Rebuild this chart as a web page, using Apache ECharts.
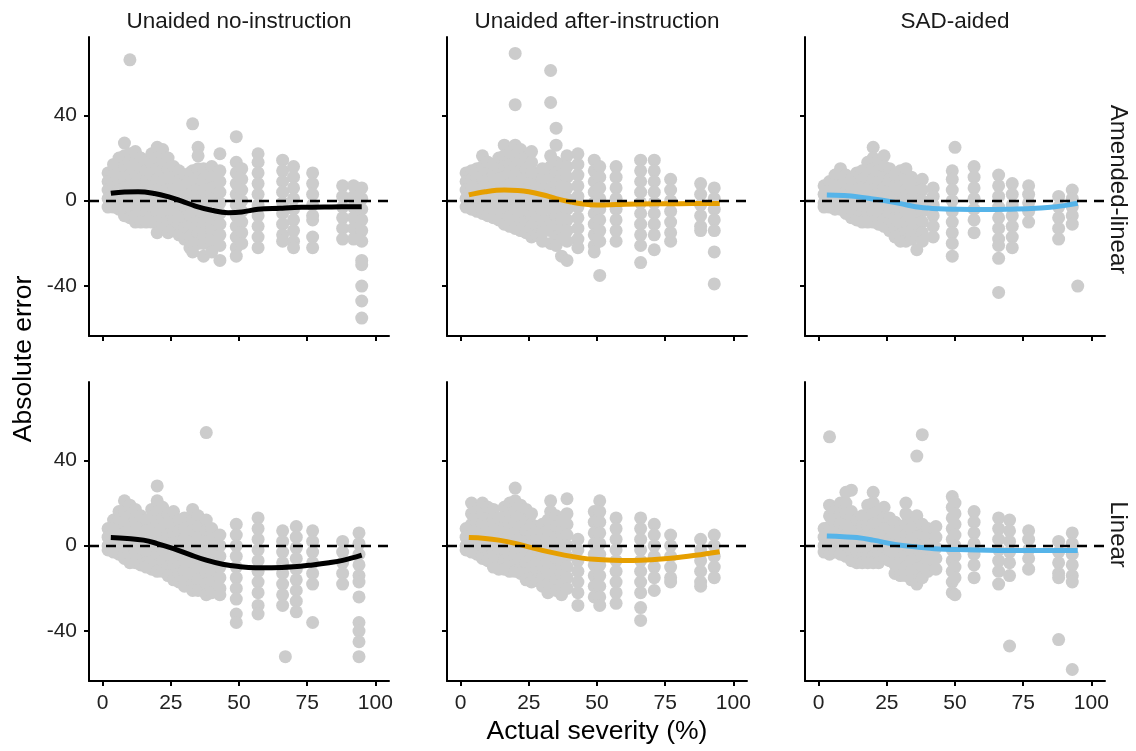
<!DOCTYPE html>
<html>
<head>
<meta charset="utf-8">
<script src="https://cdn.jsdelivr.net/npm/echarts@6/dist/echarts.min.js"></script>
<style>
html,body{margin:0;padding:0;background:#fff;}
#chart{width:1136px;height:751px;}
</style>
</head>
<body>
<div id="chart"></div>
<script>
// ---- labels ----
const colTitles = ['Unaided no-instruction', 'Unaided after-instruction', 'SAD-aided'];
const rowLabels = ['Amended-linear', 'Linear'];
const xTicks = [0, 25, 50, 75, 100];
const yTicks = [-40, 0, 40];
const xTitle = 'Actual severity (%)';
const yTitle = 'Absolute error';
const fitColors = ['#000000', '#E69F00', '#56B4E9'];

// ---- observations: [actual severity, list of absolute errors] ----
const ptsALno = [
 [2,[13,9,5,1,-3]],[4,[17,12,8,4,0,-3]],[6,[20,15,10,5,1,-4]],[8,[27,21,16,11,6,1,-4,-7]],
 [10,[66,22,17,12,7,2,-3,-8]],[12,[23,18,13,8,3,-2,-7,-10]],[14,[20,15,10,5,0,-5,-10]],
 [16,[19,14,9,4,-1,-6,-10]],[18,[22,17,12,7,2,-3,-8,-10]],[20,[25,20,15,10,5,0,-5,-10,-15]],
 [22,[24,19,14,9,4,-1,-6,-11]],[24,[20,15,10,5,0,-5,-10,-15]],[26,[16,11,6,1,-4,-9,-14]],
 [28,[14,9,4,-1,-6,-11,-16]],[30,[12,7,2,-3,-8,-13,-18]],[32,[13,8,3,-2,-7,-12,-17,-22]],
 [33,[36,14,9,4,-1,-6,-11,-16,-21,-24]],[35,[25,21,15,10,5,0,-5,-10,-15,-20]],
 [37,[15,10,5,0,-5,-10,-15,-20,-26]],[40,[16,11,6,1,-4,-9,-14,-19,-24]],
 [43,[22,14,9,4,-1,-6,-11,-16,-21,-28]],[49,[30,18,13,8,3,-2,-7,-12,-17,-22,-26]],
 [51,[15,10,5,0,-5,-10,-15,-20]],[57,[22,18,13,8,3,-2,-7,-12,-17,-22]],
 [66,[19,14,9,4,-1,-6,-11,-16,-19]],[70,[16,11,6,1,-4,-9,-14,-19,-22]],
 [77,[13,8,3,-2,-7,-9,-17,-22]],[88,[7,2,-3,-8,-13,-18]],[92,[7,2,-3,-8,-13,-18]],
 [95,[6,1,-4,-9,-14,-19,-28,-30,-40,-47,-55]]
];
const ptsALafter = [
 [2,[13,9,5,1,-3]],[4,[14,10,6,2,-2,-4]],[6,[15,11,6,1,-3,-5]],[8,[21,16,11,6,1,-4,-6]],
 [10,[18,13,8,3,-2,-7]],[12,[17,12,7,2,-3,-8]],[14,[20,15,10,5,0,-5,-9]],
 [16,[26,21,16,11,6,1,-4,-9,-11]],[18,[22,17,12,7,2,-3,-8,-12]],
 [20,[69,45,26,21,16,11,6,1,-4,-9,-13]],[22,[24,19,14,9,4,-1,-6,-11,-14]],
 [24,[20,15,10,5,0,-5,-10,-15]],[26,[23,18,13,8,3,-2,-7,-12,-17]],[28,[13,8,3,-2,-7,-12,-16]],
 [30,[15,10,5,0,-5,-10,-15,-19]],[33,[61,46,21,16,11,6,1,-4,-9,-14,-20]],
 [35,[34,26,18,13,8,3,-2,-7,-12,-17,-21]],[37,[17,12,7,2,-3,-8,-13,-18,-26]],
 [39,[21,16,11,6,1,-4,-9,-14,-19,-28]],[43,[22,17,12,7,2,-3,-8,-13,-18,-22]],
 [49,[19,14,9,4,-1,-6,-11,-16,-21,-24]],[51,[16,11,6,1,-4,-9,-14,-19,-35]],
 [57,[16,11,6,1,-4,-9,-14,-19]],[66,[19,14,9,4,-1,-6,-11,-16,-21,-29]],
 [71,[19,14,9,4,-1,-6,-11,-16,-23]],[77,[10,5,0,-5,-10,-15,-19]],
 [88,[8,3,-2,-7,-12,-14]],[93,[6,1,-4,-9,-14,-24,-39]]
];
const ptsALsad = [
 [2,[7,3,-1,-3]],[4,[9,5,1,-3]],[6,[12,8,4,0,-4]],[8,[15,11,7,3,-1,-4]],[10,[12,8,4,0,-4,-6]],
 [12,[10,6,2,-2,-6,-8]],[14,[13,9,5,1,-3,-7,-9]],[16,[14,10,6,2,-2,-6,-10]],
 [18,[18,14,10,6,2,-2,-6,-10]],[20,[25,20,15,10,5,0,-5,-10]],[22,[19,14,9,4,-1,-6,-11]],
 [24,[21,16,11,6,1,-4,-9,-12]],[26,[15,10,5,0,-5,-10,-14]],[28,[12,7,2,-3,-8,-13,-17]],
 [30,[14,9,4,-1,-6,-11,-16,-19]],[32,[15,10,5,0,-5,-10,-15,-19]],[34,[11,6,1,-4,-9,-14,-18]],
 [36,[9,4,-1,-6,-11,-16,-23]],[38,[10,5,0,-5,-10,-15,-19]],[42,[6,2,-2,-7,-12,-17]],
 [49,[14,10,5,0,-5,-10,-15,-20,-26]],[50,[25]],[57,[16,11,6,1,-4,-9,-15]],
 [66,[12,7,2,-3,-8,-13,-18,-21,-27,-43]],[71,[8,3,-2,-7,-12,-17,-22]],[77,[7,3,-1,-5,-10]],
 [88,[2,-3,-8,-13,-18]],[93,[5,1,-3,-7,-11]],[95,[-40]]
];
const ptsLno = [
 [2,[8,4,0,-2]],[4,[12,8,4,0,-3]],[6,[16,12,8,4,0,-4]],[8,[21,16,11,6,1,-4,-6]],
 [10,[19,14,9,4,-1,-6,-8]],[12,[17,12,7,2,-3,-8]],[14,[14,9,4,-1,-6,-9]],[16,[12,7,2,-3,-8,-10]],
 [18,[17,12,7,2,-3,-8,-11]],[20,[28,21,16,11,6,1,-4,-9,-12]],[22,[18,13,8,3,-2,-7,-12]],
 [24,[15,10,5,0,-5,-10,-14]],[26,[16,11,6,1,-4,-9,-14,-16]],[28,[12,7,2,-3,-8,-13,-17]],
 [30,[13,8,3,-2,-7,-12,-17,-19]],[33,[17,12,7,2,-3,-8,-13,-18,-21]],
 [35,[14,9,4,-1,-6,-11,-16,-21]],[38,[53,12,7,2,-3,-8,-13,-18,-23]],
 [40,[8,3,-2,-7,-12,-17,-22]],[43,[5,0,-5,-10,-15,-20,-23]],
 [49,[10,5,0,-5,-10,-15,-20,-25,-32,-36]],[57,[13,8,3,-2,-7,-12,-17,-22,-28,-32]],
 [66,[7,2,-3,-8,-13,-18,-23,-28]],[67,[-52]],[71,[9,4,-1,-6,-11,-16,-21,-26,-31]],
 [77,[7,2,-3,-8,-13,-18,-36]],[88,[2,-3,-8,-13,-18]],[94,[6,1,-4,-9,-14,-17,-24,-36,-40,-45,-52]]
];
const ptsLafter = [
 [2,[8,4,0,-2]],[4,[20,15,10,5,1,-3]],[6,[16,11,6,1,-4]],[8,[20,15,10,5,0,-5,-6]],
 [10,[18,13,8,3,-2,-7]],[12,[17,12,7,2,-3,-8,-10]],[14,[13,8,3,-2,-7,-11]],
 [16,[18,13,8,3,-2,-7,-11]],[18,[20,15,10,5,0,-5,-10,-12]],[20,[27,21,16,11,6,1,-4,-9,-12]],
 [22,[19,14,9,4,-1,-6,-11,-13]],[24,[17,12,7,2,-3,-8,-13,-16]],[26,[15,10,5,0,-5,-10,-15,-17]],
 [28,[9,4,-1,-6,-11,-16]],[30,[10,5,0,-5,-10,-15,-19]],[32,[12,7,2,-3,-8,-13,-18,-22]],
 [33,[21,16]],[35,[14,9,4,-1,-6,-11,-16,-21]],[37,[12,7,2,-3,-8,-13,-18,-23]],
 [39,[22,15,10,5,0,-5,-10,-15,-20]],[43,[3,-2,-7,-12,-17,-22,-28]],
 [49,[16,11,6,1,-4,-9,-14,-19,-24]],[51,[21,16,11,6,1,-4,-9,-14,-19,-24,-28]],
 [57,[13,8,3,-2,-7,-12,-17,-22,-27]],[66,[13,8,3,-2,-7,-12,-17,-22,-29,-35]],
 [71,[10,5,0,-5,-10,-15,-21]],[77,[5,0,-5,-10,-15,-17]],[88,[3,-2,-7,-12,-17,-19]],
 [93,[5,0,-5,-10,-15]]
];
const ptsLsad = [
 [2,[8,4,0,-3]],[4,[51,19,14,9,4,0,-4]],[6,[16,11,6,1,-3]],[8,[20,15,10,5,0,-4]],
 [10,[25,20,15,10,5,0,-5]],[12,[26,16,11,6,1,-4,-7]],[14,[12,7,2,-3,-8]],[16,[14,9,4,-1,-6,-8]],
 [18,[19,14,9,4,-1,-6,-8]],[20,[25,20,15,10,5,0,-5,-8]],[22,[16,11,6,1,-4,-8]],
 [24,[18,13,8,3,-2,-6]],[26,[13,8,3,-2,-7]],[28,[11,6,1,-4,-9,-13]],[30,[9,4,-1,-6,-11,-14]],
 [32,[20,15,10,5,0,-5,-10,-14]],[34,[13,8,3,-2,-7,-12,-16]],[36,[42,14,9,4,-1,-6,-11,-16,-18]],
 [38,[52,10,5,0,-5,-10,-15]],[40,[8,3,-2,-7,-12]],[43,[9,4,-1,-6,-11]],
 [49,[23,18,13,8,3,-2,-7,-12,-17,-22]],[50,[20,15,10,5,0,-5,-10,-15,-23]],
 [57,[16,11,6,1,-4,-9,-15]],[66,[13,8,3,-2,-7,-12,-18]],[70,[12,7,2,-3,-8,-14,-47]],
 [77,[7,3,-2,-6,-11]],[88,[2,-3,-8,-13,-15,-44]],[93,[6,1,-4,-9,-14,-17,-58]]
];

// ---- smooth fits: [actual severity, fitted error] ----
const fitALno = [[3,3.5],[8,4.1],[13,4.2],[19,3.4],[24,1.9],[29,-0.2],[34,-2.5],[40,-4.5],[46,-5.6],[51,-5.3],[57,-4.0],[65,-3.5],[73,-3.1],[84,-2.9],[95,-2.8]];
const fitALafter = [[3,2.7],[9,4.2],[16,5.0],[21,4.8],[25,4.2],[30,2.8],[35,1.0],[40,-0.5],[45,-1.6],[50,-2.0],[57,-1.8],[65,-1.5],[80,-1.4],[95,-1.3]];
const fitALsad = [[3,2.7],[9,2.4],[14,1.9],[20,0.8],[26,-0.4],[32,-1.9],[37,-3.1],[44,-3.8],[51,-4.0],[60,-4.1],[69,-4.0],[78,-3.7],[85,-3.1],[90,-2.3],[95,-1.2]];
const fitLno = [[3,3.8],[9,3.4],[15,2.6],[20,1.0],[26,-1.4],[32,-4.2],[38,-6.8],[44,-8.7],[50,-9.8],[56,-10.3],[62,-10.3],[70,-9.9],[77,-9.0],[83,-8.0],[88,-6.9],[95,-4.4]];
const fitLafter = [[3,3.8],[9,3.4],[14,2.6],[20,1.1],[26,-0.9],[32,-2.8],[38,-4.4],[44,-5.7],[49,-6.4],[56,-6.8],[63,-6.9],[70,-6.6],[77,-5.9],[86,-4.5],[95,-2.8]];
const fitLsad = [[3,4.5],[9,4.2],[14,3.8],[20,2.6],[28,0.6],[36,-0.6],[44,-1.5],[51,-1.8],[58,-2.0],[66,-2.2],[75,-2.3],[85,-2.3],[95,-2.3]];

const panelPts = [ptsALno, ptsALafter, ptsALsad, ptsLno, ptsLafter, ptsLsad];
const panelFits = [fitALno, fitALafter, fitALsad, fitLno, fitLafter, fitLsad];

// ---- layout ----
const FONT = 'Liberation Sans, Arial, Helvetica, sans-serif';
const gridLefts = [89, 447, 805];
const gridTops = [37, 382];
const gridW = 300, gridH = 299;

const grids = [], xAxes = [], yAxes = [], series = [];
for (let r = 0; r < 2; r++) {
  for (let c = 0; c < 3; c++) {
    const i = r * 3 + c;
    grids.push({left: gridLefts[c], top: gridTops[r], width: gridW, height: gridH, containLabel: false});
    xAxes.push({
      type: 'value', gridIndex: i, min: -5, max: 105,
      splitLine: {show: false},
      axisLine: {onZero: false, lineStyle: {color: '#000', width: 2}},
      axisTick: {show: true, length: 5, lineStyle: {color: '#000', width: 2}, customValues: xTicks},
      axisLabel: {show: r === 1, customValues: xTicks, fontSize: 21, color: '#222', margin: 12, fontFamily: FONT}
    });
    yAxes.push({
      type: 'value', gridIndex: i, min: -63.4, max: 76.7,
      splitLine: {show: false},
      axisLine: {onZero: false, lineStyle: {color: '#000', width: 2}},
      axisTick: {show: true, length: 5, lineStyle: {color: '#000', width: 2}, customValues: yTicks},
      axisLabel: {show: c === 0, customValues: yTicks, fontSize: 21, color: '#222', margin: 12, fontFamily: FONT}
    });
    const data = [];
    panelPts[i].forEach(function (col) {
      col[1].forEach(function (y) { data.push([col[0], y]); });
    });
    series.push({
      type: 'scatter', xAxisIndex: i, yAxisIndex: i, data: data,
      symbol: 'circle', symbolSize: 13, itemStyle: {color: '#cccccc', opacity: 1},
      silent: true, z: 2, animation: false
    });
    series.push({
      type: 'line', xAxisIndex: i, yAxisIndex: i, data: [], z: 3, animation: false,
      markLine: {
        silent: true, symbol: 'none', animation: false,
        label: {show: false},
        lineStyle: {color: '#000', width: 2.4, type: [10, 7]},
        data: [{yAxis: 0}]
      }
    });
    series.push({
      type: 'line', xAxisIndex: i, yAxisIndex: i, data: panelFits[i],
      smooth: 0.4, showSymbol: false, symbol: 'none', z: 4, animation: false,
      lineStyle: {color: fitColors[c], width: 5}
    });
  }
}

const graphics = [];
colTitles.forEach(function (t, c) {
  graphics.push({type: 'text', x: gridLefts[c] + gridW / 2, y: 22,
    style: {text: t, fontSize: 22.5, fontFamily: FONT, fill: '#1a1a1a', align: 'center', verticalAlign: 'middle'}});
});
rowLabels.forEach(function (t, r) {
  graphics.push({type: 'text', x: 1118, y: gridTops[r] + gridH / 2 + 3, rotation: -Math.PI / 2,
    style: {text: t, fontSize: 24, fontFamily: FONT, fill: '#1a1a1a', align: 'center', verticalAlign: 'middle'}});
});
graphics.push({type: 'text', x: 597, y: 732,
  style: {text: xTitle, fontSize: 26.5, fontFamily: FONT, fill: '#000', align: 'center', verticalAlign: 'middle'}});
graphics.push({type: 'text', x: 24, y: 359, rotation: Math.PI / 2,
  style: {text: yTitle, fontSize: 26.5, fontFamily: FONT, fill: '#000', align: 'center', verticalAlign: 'middle'}});

const chart = echarts.init(document.getElementById('chart'), null, {renderer: 'canvas'});
chart.setOption({
  backgroundColor: '#ffffff',
  animation: false,
  grid: grids, xAxis: xAxes, yAxis: yAxes, series: series,
  graphic: graphics
});
</script>
</body>
</html>
